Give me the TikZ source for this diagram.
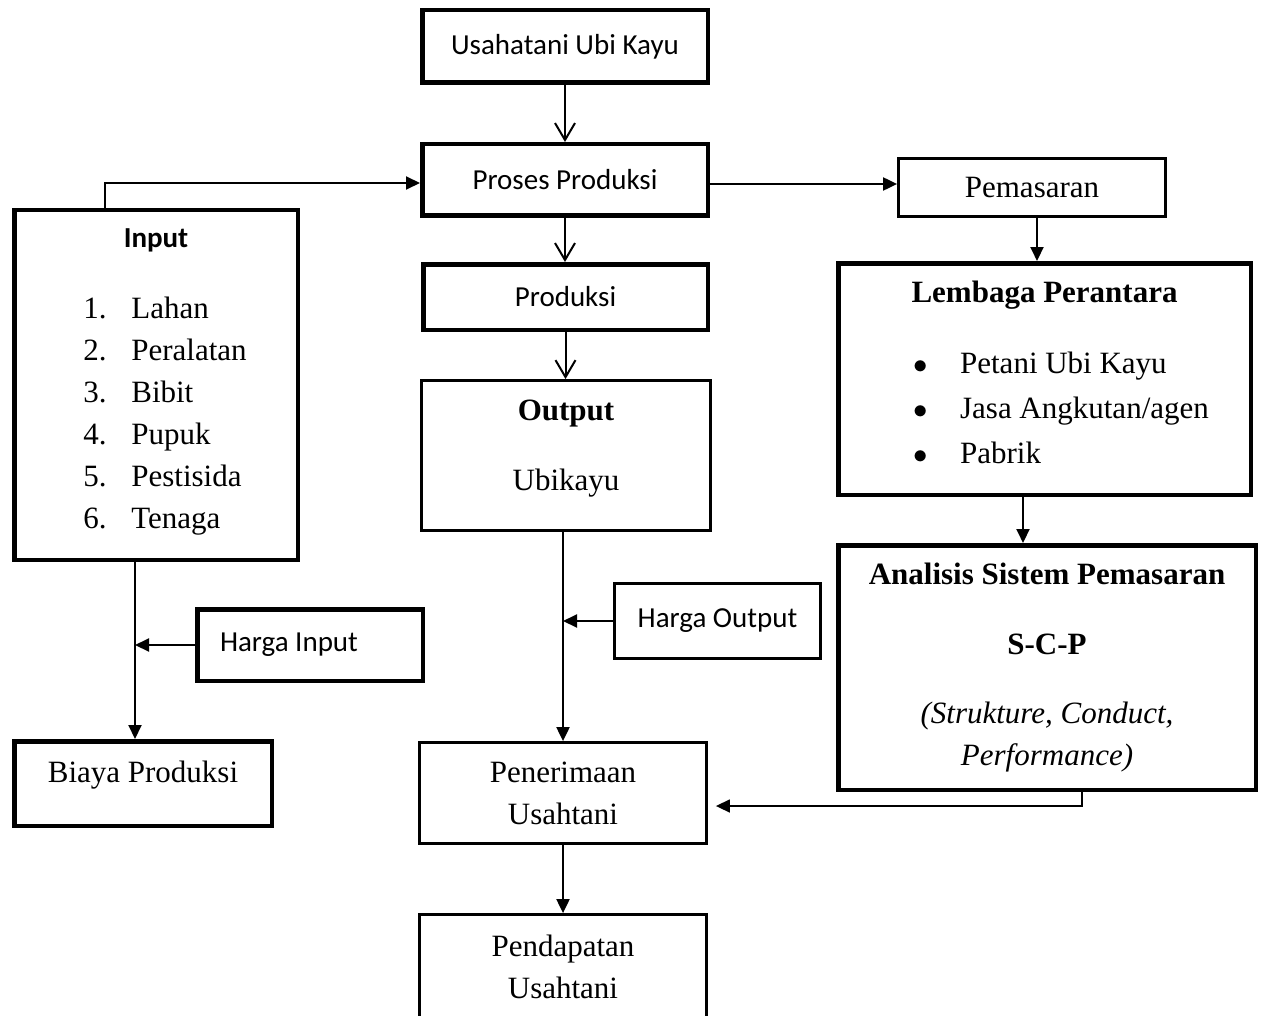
\documentclass[tikz,border=0pt]{standalone}
\usepackage{fontspec}
\setmainfont{Liberation Serif}
\newfontfamily\calibri{Carlito}
\usetikzlibrary{arrows.meta,calc}

\begin{document}
\begin{tikzpicture}[x=0.5pt,y=-0.5pt,
  kotak/.style={draw,line width=2.25pt,inner sep=0pt,align=center},
  kotaktipis/.style={kotak,line width=1.6pt},
  huruf sans/.style={font=\calibri\fontsize{14.5}{17.4}\selectfont},
  huruf serif/.style={font=\fontsize{15.5}{21}\selectfont},
  panah/.style={-{Triangle[length=7pt,width=6.5pt]},line width=1pt},
  panah v/.style={-{Straight Barb[length=8.5pt,width=10pt]},line width=1pt}]
  \path[use as bounding box,fill=white] (0,0) rectangle (1262,1016);

  % kolom tengah
  \node[kotak,huruf sans,minimum width=142.75pt,minimum height=36.25pt] (usaha) at (565,46.5) {Usahatani Ubi Kayu};
  \node[kotak,huruf sans,minimum width=142.75pt,minimum height=35.75pt] (proses) at (565,180) {Proses Produksi};
  \node[kotak,huruf sans,minimum width=142.25pt,minimum height=32.75pt] (produksi) at (565.5,297) {Produksi};
  \node[kotaktipis,huruf serif,minimum width=144.3pt,minimum height=74.8pt,text depth=10pt] (output) at (566,455.5) {\textbf{Output}\\[14pt]Ubikayu};
  \node[kotaktipis,line width=1.35pt,huruf sans,minimum width=103pt,minimum height=37.6pt] (houtput) at (717.5,621) {Harga Output};
  \node[kotaktipis,huruf serif,minimum width=143.3pt,minimum height=50.3pt] (terima) at (563,793) {Penerimaan\\Usahtani};
  \node[kotaktipis,huruf serif,minimum width=143.3pt,minimum height=51.8pt] (dapat) at (563,966.5) {Pendapatan\\Usahtani};

  % kolom kiri
  \node[kotak,huruf serif,minimum width=141.75pt,minimum height=174.75pt] (input) at (156,385) {{\calibri\fontsize{14.5}{21}\selectfont\bfseries Input}\\[14.5pt]\hspace*{9pt}\begin{tabular}[t]{@{}l@{}l@{}}
    \makebox[24pt][l]{1.}&Lahan\\
    \makebox[24pt][l]{2.}&Peralatan\\
    \makebox[24pt][l]{3.}&Bibit\\
    \makebox[24pt][l]{4.}&Pupuk\\
    \makebox[24pt][l]{5.}&Pestisida\\
    \makebox[24pt][l]{6.}&Tenaga
  \end{tabular}};
  \node[kotak,huruf sans,minimum width=112.75pt,minimum height=35.75pt] (hinput) at (310,645) {\makebox[90pt][l]{Harga Input}};
  \node[kotak,huruf serif,minimum width=128.75pt,minimum height=42.25pt,text depth=12pt] (biaya) at (143,783.5) {Biaya Produksi};

  % kolom kanan
  \node[kotaktipis,huruf serif,minimum width=133.3pt,minimum height=28.8pt] (pemasaran) at (1032,187.5) {Pemasaran};
  \node[kotak,huruf serif,minimum width=206.25pt,minimum height=115.75pt] (lembaga) at (1044.5,379) {\textbf{Lembaga Perantara}\\[14.5pt]\hspace*{16.5pt}\begin{tabular}[t]{@{}l@{}l@{}}
    \makebox[23.5pt][l]{$\bullet$}&Petani Ubi Kayu\\[1.5pt]
    \makebox[23.5pt][l]{$\bullet$}&Jasa Angkutan/agen\\[1.5pt]
    \makebox[23.5pt][l]{$\bullet$}&Pabrik
  \end{tabular}};
  \node[kotak,huruf serif,minimum width=208.75pt,minimum height=122.25pt] (analisis) at (1047,667.5) {\textbf{Analisis Sistem Pemasaran}\\[14pt]\textbf{S-C-P}\\[13.5pt]\textit{(Strukture, Conduct,}\\\textit{Performance)}};

  \coordinate (jalurA) at (135,645);
  \coordinate (jalurB) at (563,621);

  \draw[panah v] (usaha.south) -- (usaha.south |- proses.north);
  \draw[panah v] (proses.south) -- (proses.south |- produksi.north);
  \draw[panah v] (produksi.south) -- (produksi.south |- output.north);
  \draw[panah] (output.south -| jalurB) -- (terima.north -| jalurB);
  \draw[panah] (houtput.west) -- (jalurB);
  \draw[panah] (terima) -- (dapat);
  \draw[panah] ([xshift=-25.5pt]input.north) |- ([yshift=-1.5pt]proses.west);
  \draw[panah] ([yshift=-2pt]proses.east) -- ([yshift=-2pt]proses.east -| pemasaran.west);
  \draw[panah] ([xshift=2.5pt]pemasaran.south) -- ([xshift=2.5pt]pemasaran.south |- lembaga.north);
  \draw[panah] ([xshift=-10.75pt]lembaga.south) -- ([xshift=-10.75pt]lembaga.south |- analisis.north);
  \draw[panah] (input.south -| jalurA) -- (biaya.north -| jalurA);
  \draw[panah] (hinput.west) -- (jalurA);
  \draw[panah,line width=0.75pt] ([xshift=17.5pt]analisis.south) |- ([xshift=4pt,yshift=-6.5pt]terima.east);
\end{tikzpicture}
\end{document}
